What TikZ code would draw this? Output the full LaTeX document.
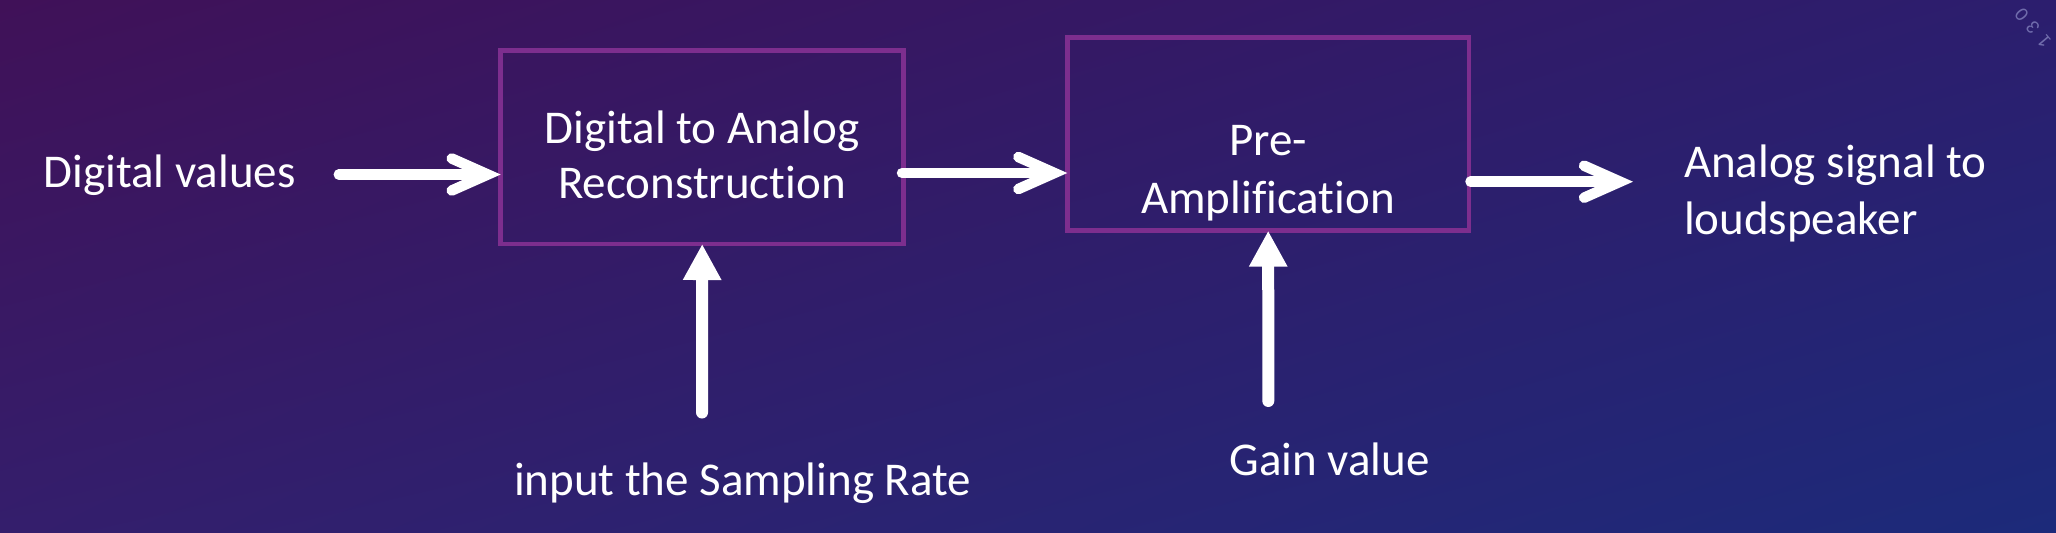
\documentclass[tikz,border=0pt]{standalone}
\usepackage{fontspec}
\setmainfont{Carlito}[Ligatures={NoCommon,NoContextual}]
\usetikzlibrary{arrows.meta,shadings}
\definecolor{bgTL}{RGB}{64,17,88}
\definecolor{bgTR}{RGB}{44,30,110}
\definecolor{bgBL}{RGB}{52,30,108}
\definecolor{bgBR}{RGB}{28,42,122}
\definecolor{boxline}{RGB}{125,46,142}
\definecolor{pagenum}{RGB}{112,108,172}
\begin{document}
\begin{tikzpicture}[x=0.5pt,y=-0.5pt,
  lbl/.style={text=white, inner sep=0pt, outer sep=0pt, font=\fontsize{23.5}{27.5}\selectfont},
  blockbox/.style={draw=boxline, line width=2.25pt, inner sep=0pt, outer sep=0pt, minimum height=96.7pt},
  harrow/.style={draw=white, line width=5.25pt, line cap=round, -{Straight Barb[length=18pt, width=16pt, line cap=round, line join=miter]}},
  varrow/.style={draw=white, fill=white, line width=6pt, line cap=round, -{Triangle[length=18pt, width=18pt]}},
]
\useasboundingbox (0,0) rectangle (2056,532);
\shade[upper left=bgTL, upper right=bgTR, lower left=bgBL, lower right=bgBR] (0,0) rectangle (2056,532);

\node[blockbox, minimum width=201.5pt] (dac) at (702.2,147.3) {};
\node[blockbox, minimum width=200.9pt] (pre) at (1268.2,134) {};

\node[lbl, align=center] (dact) at (702,155) {Digital to Analog\\Reconstruction};
\node[lbl, align=center, font=\fontsize{23.5}{29}\selectfont] (pret) at (1268,173) {Pre-\\Amplification};
\node[lbl, anchor=base west] (dv) at (43.5,187) {Digital values};
\node[lbl, align=left, anchor=west, font=\fontsize{23.5}{28.5}\selectfont] (out) at (1684,193.5) {Analog signal to\\loudspeaker};
\node[lbl, anchor=base west] (sr) at (514,495) {input the Sampling Rate};
\node[lbl, anchor=base west] (gv) at (1229.5,475) {Gain value};
\node[text=pagenum, font=\fontsize{10}{12}\selectfont, rotate=130, inner sep=0pt] (pg) at (2033,28) {1\kern3.8pt3\kern3.8pt0};

\coordinate (a1s) at (338.8,174.5);
\coordinate (a2s) at (902,173);
\coordinate (a3s) at (1470.5,181.7);
\coordinate (a3e) at (1633,181.7);
\coordinate (v1s) at (702,412.5);
\coordinate (v2s) at (1268.3,401);

\draw[harrow] (a1s) -- (a1s -| dac.west);
\draw[harrow] (a2s) -- (a2s -| pre.west);
\draw[harrow] (a3s) -- (a3e);
\draw[varrow] (v1s) -- (dac.south);
\draw[varrow] (v2s) -- (pre.south);
\end{tikzpicture}
\end{document}
